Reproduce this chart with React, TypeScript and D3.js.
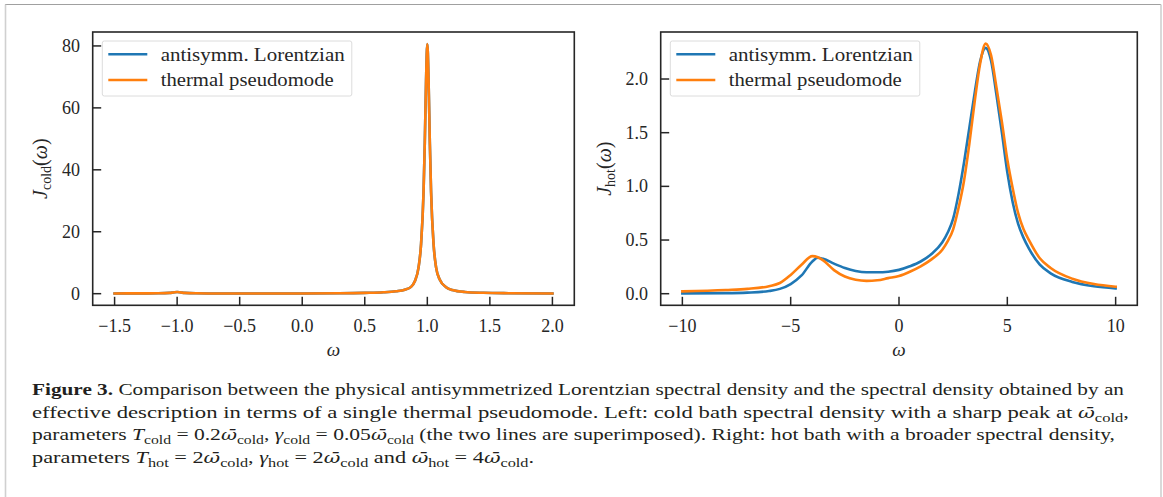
import React from 'react';
import * as d3 from 'd3';

// ---- data ----
const coldOmega = [-1.5, -1.3, -1.15, -1.06, -1.03, -1.0, -0.97, -0.94, -0.85, -0.6, -0.3, 0, 0.3, 0.5, 0.65, 0.75, 0.82, 0.87, 0.9, 0.93, 0.95, 0.97, 0.98, 0.99, 1.0, 1.01, 1.02, 1.03, 1.05, 1.07, 1.1, 1.15, 1.2, 1.3, 1.45, 1.65, 2.0];
const coldLorentz = [0.08, 0.1, 0.14, 0.25, 0.4, 0.55, 0.4, 0.25, 0.12, 0.06, 0.05, 0.06, 0.12, 0.25, 0.45, 0.8, 1.3, 2.2, 4.0, 8.5, 16, 33, 49, 69, 80.6, 69, 49, 33, 16, 8.5, 4.5, 2.1, 1.2, 0.55, 0.28, 0.15, 0.07];
const coldPseudo = [0.08, 0.1, 0.14, 0.25, 0.4, 0.55, 0.4, 0.25, 0.12, 0.06, 0.05, 0.06, 0.12, 0.25, 0.45, 0.8, 1.3, 2.2, 4.0, 8.5, 16, 33, 49, 69, 80.6, 69, 49, 33, 16, 8.5, 4.5, 2.1, 1.2, 0.55, 0.28, 0.15, 0.07];

const hotOmega = [-10, -8, -7, -6, -5.5, -5, -4.5, -4, -3.75, -3.5, -3, -2.5, -2, -1.5, -1, -0.5, 0, 0.5, 1, 1.5, 2, 2.25, 2.5, 2.75, 3, 3.25, 3.5, 3.75, 4, 4.25, 4.5, 4.75, 5, 5.25, 5.5, 5.75, 6, 6.5, 7, 8, 9, 10];
const hotLorentz = [0.003, 0.005, 0.01, 0.025, 0.045, 0.09, 0.17, 0.3, 0.335, 0.325, 0.28, 0.24, 0.212, 0.2, 0.2, 0.205, 0.222, 0.255, 0.3, 0.37, 0.48, 0.57, 0.7, 0.93, 1.22, 1.55, 1.88, 2.17, 2.29, 2.17, 1.85, 1.5, 1.13, 0.85, 0.65, 0.52, 0.42, 0.27, 0.19, 0.11, 0.07, 0.05];
const hotPseudo = [0.022, 0.035, 0.045, 0.07, 0.1, 0.175, 0.27, 0.35, 0.34, 0.31, 0.22, 0.16, 0.13, 0.12, 0.125, 0.145, 0.165, 0.205, 0.255, 0.32, 0.41, 0.49, 0.6, 0.8, 1.05, 1.4, 1.8, 2.15, 2.33, 2.22, 1.92, 1.6, 1.25, 0.98, 0.75, 0.6, 0.5, 0.33, 0.24, 0.14, 0.09, 0.065];

const coldXTicks = [-1.5, -1.0, -0.5, 0.0, 0.5, 1.0, 1.5, 2.0];
const coldYTicks = [0, 20, 40, 60, 80];
const hotXTicks = [-10, -5, 0, 5, 10];
const hotYTicks = [0, 0.5, 1.0, 1.5, 2.0];

const seriesNames = ['antisymm. Lorentzian', 'thermal pseudomode'];
const seriesColors = ['#1f77b4', '#ff7f0e'];
const legendWidths = [184, 173];

const INK = '#262626';
const SERIF = '"Liberation Serif", "DejaVu Serif", serif';

const minus = (s: string) => s.replace('-', '\u2212');

type PanelProps = {
  x0: number; x1: number;
  xDomain: [number, number]; yDomain: [number, number];
  xTicks: number[]; yTicks: number[];
  fx: (v: number) => string; fy: (v: number) => string;
  omega: number[]; series: number[][];
  sub: string; ylabelX: number; id: string;
};

const Panel = ({ x0, x1, xDomain, yDomain, xTicks, yTicks, fx, fy, omega, series, sub, ylabelX, id }: PanelProps) => {
  const top = 32, bottom = 305.3;
  const xs = d3.scaleLinear().domain(xDomain).range([x0, x1]);
  const ys = d3.scaleLinear().domain(yDomain).range([bottom, top]);
  const line = d3.line<number>()
    .x((_, i) => xs(omega[i]))
    .y(d => ys(d))
    .curve(d3.curveMonotoneX);
  const cx = (x0 + x1) / 2;
  const cy = (top + bottom) / 2;
  const lx = x0 + 9.6;
  return (
    <g>
      <defs>
        <clipPath id={id}>
          <rect x={x0} y={top} width={x1 - x0} height={bottom - top} />
        </clipPath>
      </defs>
      <g clipPath={`url(#${id})`}>
        {series.map((s, k) => (
          <path key={k} d={line(s) || ''} fill="none" stroke={seriesColors[k]} strokeWidth={2.6} strokeLinecap="square" />
        ))}
      </g>
      {/* legend */}
      <rect x={lx} y={41} width={249.5} height={55} rx={2} fill="white" fillOpacity={0.8} stroke="#dcdcdc" strokeWidth={1} />
      {seriesNames.map((n, k) => (
        <g key={n}>
          <line x1={lx + 6} x2={lx + 45} y1={54.3 + k * 25.7} y2={54.3 + k * 25.7} stroke={seriesColors[k]} strokeWidth={2.6} />
          <text x={lx + 58.4} y={60.7 + k * 25.7} fontSize={18} fontFamily={SERIF} fill={INK}
            textLength={legendWidths[k]} lengthAdjust="spacingAndGlyphs">{n}</text>
        </g>
      ))}
      {/* ticks */}
      {xTicks.map(t => (
        <g key={'x' + t}>
          <line x1={xs(t)} x2={xs(t)} y1={bottom} y2={bottom - 8.5} stroke={INK} strokeWidth={1.5} />
          <text x={xs(t)} y={332} textAnchor="middle" fontSize={18} fontFamily={SERIF} fill={INK}>{fx(t)}</text>
        </g>
      ))}
      {yTicks.map(t => (
        <g key={'y' + t}>
          <line x1={x0} x2={x0 + 8.5} y1={ys(t)} y2={ys(t)} stroke={INK} strokeWidth={1.5} />
          <text x={x0 - 12.8} y={ys(t) + 6} textAnchor="end" fontSize={18} fontFamily={SERIF} fill={INK}>{fy(t)}</text>
        </g>
      ))}
      <rect x={x0} y={top} width={x1 - x0} height={bottom - top} fill="none" stroke={INK} strokeWidth={1.6} />
      {/* axis labels */}
      <text x={cx} y={356} textAnchor="middle" fontSize={19} fontStyle="italic" fontFamily={SERIF} fill={INK}>ω</text>
      <text transform={`translate(${ylabelX},${cy}) rotate(-90)`} textAnchor="middle" fontSize={20} fontFamily={SERIF} fill={INK}>
        <tspan fontStyle="italic">J</tspan>
        <tspan fontSize={14} dy={4}>{sub}</tspan>
        <tspan dy={-4}>(</tspan>
        <tspan fontStyle="italic">ω</tspan>
        <tspan>)</tspan>
      </text>
    </g>
  );
};

type Seg = { t: string; it?: boolean; sub?: boolean; b?: boolean; ob?: boolean };
const OB: Seg = { t: 'ω\u0304', it: true, ob: true };
const captionLines: Seg[][] = [
  [{ t: 'Figure 3.', b: true }, { t: ' Comparison between the physical antisymmetrized Lorentzian spectral density and the spectral density obtained by an' }],
  [{ t: 'effective description in terms of a single thermal pseudomode. Left: cold bath spectral density with a sharp peak at ' }, OB, { t: 'cold', sub: true }, { t: ',' }],
  [{ t: 'parameters ' }, { t: 'T', it: true }, { t: 'cold', sub: true }, { t: ' = 0.2' }, OB, { t: 'cold', sub: true }, { t: ', ' }, { t: 'γ', it: true }, { t: 'cold', sub: true }, { t: ' = 0.05' }, OB, { t: 'cold', sub: true }, { t: ' (the two lines are superimposed). Right: hot bath with a broader spectral density,' }],
  [{ t: 'parameters ' }, { t: 'T', it: true }, { t: 'hot', sub: true }, { t: ' = 2' }, OB, { t: 'cold', sub: true }, { t: ', ' }, { t: 'γ', it: true }, { t: 'hot', sub: true }, { t: ' = 2' }, OB, { t: 'cold', sub: true }, { t: ' and ' }, OB, { t: 'hot', sub: true }, { t: ' = 4' }, OB, { t: 'cold', sub: true }, { t: '.' }],
];
const captionWidths = [1092, 1097, 1083, 502];

const Caption = () => (
  <g>
    {captionLines.map((segs, li) => {
      let shifted = false;
      return (
        <text key={li} x={32} y={395 + li * 22.5} fontSize={16.5} fontFamily={SERIF} fill="#231f20"
          textLength={captionWidths[li]} lengthAdjust="spacingAndGlyphs">
          {segs.map((s, si) => {
            let dy = 0;
            if (s.sub && !shifted) { dy = 4; shifted = true; }
            else if (!s.sub && shifted) { dy = -4; shifted = false; }
            return (
              <tspan key={si} dy={dy || undefined} fontWeight={s.b ? 'bold' : undefined}
                fontFamily={s.ob ? '"DejaVu Serif", serif' : undefined}
                fontStyle={s.it ? 'italic' : undefined} fontSize={s.sub ? 12 : s.ob ? 15 : undefined}>{s.t}</tspan>
            );
          })}
        </text>
      );
    })}
  </g>
);

export default function App() {
  return (
    <svg width={1163} height={497} style={{ position: 'absolute', left: 0, top: 0, background: 'white' }}>
      <rect x={0} y={0} width={1163} height={497} fill="white" />
      <line x1={5} x2={1161} y1={4.5} y2={4.5} stroke="#a0a0a0" strokeWidth={1} />
      <line x1={5.5} x2={5.5} y1={4.5} y2={497} stroke="#d0d0d0" strokeWidth={1.6} />
      <line x1={1161} x2={1161} y1={4.5} y2={497} stroke="#d0d0d0" strokeWidth={1.6} />
      <Panel id="clipCold" x0={92.7} x1={574.3} xDomain={[-1.675, 2.175]} yDomain={[-3.75, 84.5]}
        xTicks={coldXTicks} yTicks={coldYTicks}
        fx={v => minus(v.toFixed(1))} fy={v => minus(String(v))}
        omega={coldOmega} series={[coldLorentz, coldPseudo]} sub="cold" ylabelX={47} />
      <Panel id="clipHot" x0={660.7} x1={1137.3} xDomain={[-11, 11]} yDomain={[-0.108, 2.438]}
        xTicks={hotXTicks} yTicks={hotYTicks}
        fx={v => minus(String(v))} fy={v => minus(v.toFixed(1))}
        omega={hotOmega} series={[hotLorentz, hotPseudo]} sub="hot" ylabelX={611} />
      <Caption />
    </svg>
  );
}
